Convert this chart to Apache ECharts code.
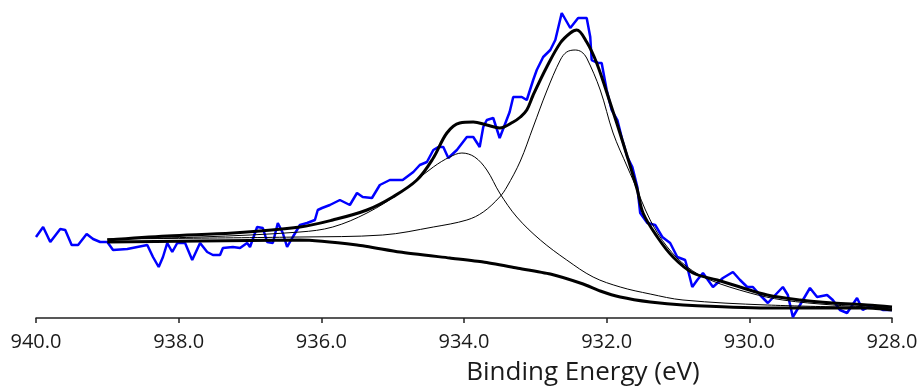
<!DOCTYPE html>
<html>
<head>
<meta charset="utf-8">
<script src="https://cdn.jsdelivr.net/npm/echarts@6/dist/echarts.min.js"></script>
<style>
html,body{margin:0;padding:0;background:#fff;}
#chart{width:924px;height:389px;}
</style>
</head>
<body>
<div id="chart"></div>
<script>
// Measured spectrum (binding energy eV, intensity a.u.)
const measuredE = [940.0,939.90,939.80,939.66,939.59,939.50,939.41,939.29,939.20,939.10,939.00,938.92,938.72,938.58,938.44,938.36,938.28,938.22,938.16,938.09,938.02,937.91,937.81,937.70,937.60,937.52,937.42,937.38,937.24,937.14,937.04,937.00,936.90,936.82,936.76,936.68,936.61,936.54,936.48,936.40,936.30,936.20,936.09,936.05,935.99,935.88,935.74,935.60,935.50,935.42,935.29,935.18,935.04,934.94,934.86,934.71,934.62,934.52,934.43,934.36,934.29,934.22,934.10,933.96,933.87,933.78,933.73,933.68,933.59,933.50,933.43,933.36,933.31,933.19,933.12,933.03,932.98,932.89,932.79,932.72,932.63,932.51,932.40,932.28,932.23,932.21,932.12,932.07,932.00,931.93,931.85,931.78,931.71,931.64,931.57,931.53,931.43,931.32,931.22,931.11,931.01,930.90,930.86,930.80,930.73,930.65,930.51,930.37,930.23,930.13,930.03,929.95,929.85,929.74,929.61,929.53,929.46,929.39,929.29,929.15,929.05,928.91,928.83,928.73,928.63,928.49,928.41,928.27,928.13,928.00];
const measuredI = [81,91,76,89,88,73,73,84,79,76,76,68,69,71,73,61,51,61,75,66,75,75,58,75,66,63,63,70,71,70,75,71,91,90,76,75,95,85,71,81,93,95,98,108,110,113,118,113,125,121,120,133,138,138,138,146,153,156,168,171,171,160,168,181,181,171,191,198,200,180,193,206,221,221,218,238,248,261,268,278,305,290,300,300,281,258,255,255,228,208,198,178,161,151,131,105,95,93,81,75,61,58,48,31,38,45,31,40,46,38,31,31,23,15,25,31,23,1,13,30,21,23,18,8,5,20,8,13,8,8];

// Fit envelope
const envelopeE = [939.0,938.16,937.24,936.30,935.84,935.36,935.00,934.66,934.43,934.24,934.06,933.87,933.68,933.50,933.31,933.21,933.12,933.03,932.84,932.65,932.51,932.42,932.28,932.14,931.95,931.77,931.57,931.49,931.29,931.07,930.79,930.45,930.13,929.75,929.29,928.83,928.35,928.0];
const envelopeI = [78,82,85,91,98,108,121,138,160,185,195,196,193,190,196,201,208,223,251,275,285,288,276,255,215,175,128,105,81,61,45,38,31,23,18,15,13,11];

// Background
const backgroundE = [939.0,937.70,936.30,935.50,934.90,934.20,933.73,933.26,932.79,932.33,932.09,931.81,931.39,930.93,929.75,928.35,928.0];
const backgroundI = [76,77,78,73,66,60,56,50,44,34,27,21,16,13,10,10,8];

// Component 1 (~934.0 eV)
const comp1E = [939.0,937.70,936.30,935.84,935.36,934.90,934.43,934.20,934.03,933.85,933.68,933.50,933.26,932.93,932.56,932.19,931.81,931.39,930.93,929.75,928.0];
const comp1I = [79,81,86,91,105,125,151,161,165,161,148,125,101,78,58,41,31,24,18,13,10];

// Component 2 (~932.4 eV)
const comp2E = [939.0,936.30,935.14,934.43,933.96,933.73,933.50,933.40,933.21,933.03,932.84,932.65,932.56,932.44,932.35,932.28,932.09,931.91,931.71,931.63,931.39,931.15,930.87,930.55,929.99,929.53,928.83,928.0];
const comp2I = [79,81,83,91,98,106,121,131,157,191,227,258,266,268,266,260,228,185,151,138,98,71,51,38,25,18,13,10];

const xTicks = {min: 928, max: 940, interval: 2};
const xTitle = 'Binding Energy (eV)';

function pairs(xs, ys){ return xs.map((x,i)=>[x, ys[i]]); }

const chart = echarts.init(document.getElementById('chart'), null, {renderer:'canvas'});
chart.setOption({
  animation: false,
  backgroundColor: '#ffffff',
  grid: {left: 36, right: 32, top: 0, bottom: 71},
  xAxis: {
    type: 'value',
    min: xTicks.min, max: xTicks.max, interval: xTicks.interval,
    inverse: true,
    axisLine: {show: true, onZero: false, lineStyle: {color: '#222', width: 1.5}},
    axisTick: {show: true, length: 5, inside: false, lineStyle: {color: '#222', width: 1.5}},
    splitLine: {show: false},
    axisLabel: {
      margin: 14,
      fontFamily: 'Open Sans',
      fontSize: 20,
      color: '#1a1a1a',
      formatter: v => v.toFixed(1)
    }
  },
  yAxis: {
    type: 'value', min: 0, max: 318, show: false,
    splitLine: {show: false}
  },
  graphic: [{
    type: 'text',
    x: 583, y: 373,
    style: {
      text: xTitle,
      fontFamily: 'Open Sans',
      fontSize: 26,
      fill: '#1a1a1a',
      align: 'center',
      verticalAlign: 'middle'
    }
  }],
  series: [
    {type:'line', name:'Measured', data: pairs(measuredE, measuredI), showSymbol:false, symbol:'none',
     lineStyle:{color:'#0000ff', width:2.5}, z:2},
    {type:'line', name:'Component 1', data: pairs(comp1E, comp1I), showSymbol:false, symbol:'none', smooth:0.35,
     lineStyle:{color:'#000', width:1}, z:3},
    {type:'line', name:'Component 2', data: pairs(comp2E, comp2I), showSymbol:false, symbol:'none', smooth:0.35,
     lineStyle:{color:'#000', width:1}, z:3},
    {type:'line', name:'Background', data: pairs(backgroundE, backgroundI), showSymbol:false, symbol:'none', smooth:0.2,
     lineStyle:{color:'#000', width:3}, z:4},
    {type:'line', name:'Envelope', data: pairs(envelopeE, envelopeI), showSymbol:false, symbol:'none', smooth:0.35,
     lineStyle:{color:'#000', width:3}, z:4}
  ]
});
</script>
</body>
</html>
